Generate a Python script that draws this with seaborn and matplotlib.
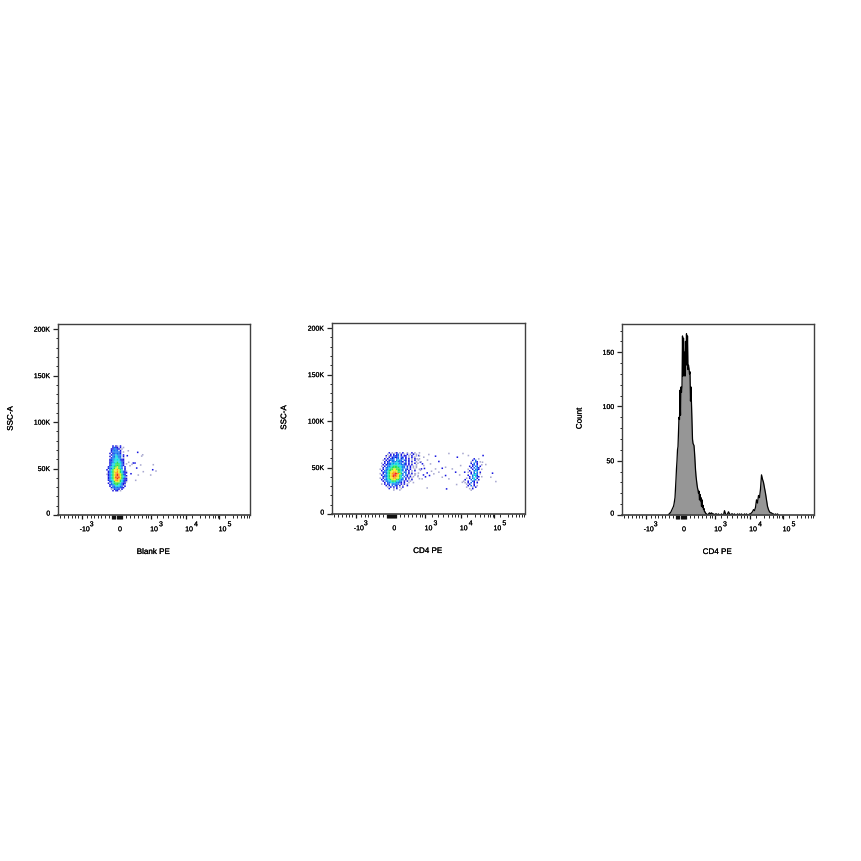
import numpy as np
import pandas as pd
import matplotlib
matplotlib.use("Agg")
import matplotlib.pyplot as plt
import matplotlib.patheffects as pe
from matplotlib.text import Text
from matplotlib.transforms import ScaledTranslation
import seaborn as sns

# x is in display channels of the biexponential axis (0-192), y in SSC-A thousands
x_major = [23.7, 62, 93, 128, 161.5]
x_labels = ["-10", "0", "10", "10", "10"]
x_powers = ["3", "", "3", "4", "5"]
x_block = [54.5, 55.5, 56.5, 57.5, 59, 60, 61, 63, 64]
x_minor = [2, 6, 10, 14, 17, 20, 29, 33, 36, 40, 43, 47, 51,
           68, 72, 76, 80, 84, 88, 90, 99, 105, 110, 115, 119, 122, 125,
           134, 142, 147, 151, 155, 157, 160, 167, 175, 179, 183, 186, 189, 191]
ssc_ticks = [0, 50, 100, 150, 200]
ssc_labels = ["0", "50K", "100K", "150K", "200K"]
count_ticks = [0, 50, 100, 150]
count_labels = ["0", "50", "100", "150"]

# density levels per 1.5 channel cell, blank = no event
blank_core = [
    "    2 21 2    ",
    "    2322 2 1  ",
    "   223322 1   ",
    "   23333 2    ",
    "   2333332 1  ",
    "  2 233332    ",
    "   2334333 2  ",
    "  2 334433 2  ",
    "   2334433 1  ",
    "  2334444322  ",
    "  2234444322  ",
    "  2334454432  ",
    "  2344555432 1",
    "  2344555432  ",
    " 2344556543 2 ",
    " 2334566543 2 ",
    "2 345667654 2 ",
    " 2345667654321",
    " 2345677654322",
    "1234567876532 ",
    " 2345678765432",
    " 2345687865431",
    " 2345678765322",
    " 2344677654322",
    "  234566654321",
    " 2 3455554322 ",
    "  23345544321 ",
    "  2 3344433 2 ",
    "   233333322  ",
    "   1 2332 2   ",
    "    2 22 1    ",
]
cd4_neg = [
    "      2 1 12 1 2  1  2 1  1 ",
    "     1 2 2 23 2 1 2 1 2 1   ",
    "    2 12 2323 2 22 1 2  1 1 ",
    "    1 2 23223 32 2 1 2 1    ",
    "   2 2 323 33 23 2 2 1 2  1 ",
    "  1 2 2333 3433 32 2 1 2    ",
    "   2 23 33343332 3 2 2  1  1",
    " 1 2 2334344433 32 2 1 2 1  ",
    "  2 23334444443332 2 2  1   ",
    " 1 2 334455544433 2 2 1 1   ",
    "  2 3344555554433 3 2 1     ",
    "1 2 334556655543 32 2  1  1 ",
    " 2 3345566665543 2 2 1 2    ",
    "  2334566776554 33 2 1      ",
    "1 2 345677887653 3 2 2 1    ",
    " 2 3345678876543 32 1  1    ",
    "  2334567877654 3 2 2 1  1  ",
    "1 2 345667766543 2 2 1      ",
    " 2 3344566655433 2 1 2      ",
    "  2 33445554433 2 2 1       ",
    "   2 3344443332 2  1  1     ",
    " 1 2 23 33333 2 2 1         ",
    "    2 2 3 32 2 1  2         ",
    "     1 2 2 2 1 2            ",
    "      2  1 2  1             ",
    "         1   1              ",
]
cd4_pos = [
    "       2  1  ",
    "      2 3    ",
    "     1  32 1 ",
    "     2 3 2   ",
    "      23 2  1",
    "    2 2 33 2 ",
    "     2 3 32  ",
    "   1  2 332 1",
    "    2  343   ",
    "   1 2 3 3 2 ",
    "     2 343 1 ",
    "   2  3442   ",
    "    2 3 432 1",
    "  1 2 34 2   ",
    " 2   3 43 2  ",
    "1  2  32 1   ",
    " 1 2 3 2 2   ",
    "  1 2  2     ",
    "   2 3 2 1   ",
    "  1   1 2    ",
    "    1 2      ",
    "     1       ",
]

blank_x = [79.7, 83.7, 84.7, 75.3, 72, 74, 77, 82.7, 95.3, 94.7, 98, 92.7, 78.7, 85.3, 80.3, 73, 77.7, 70.3, 69.3, 70.7]
blank_y = [67.4, 63.4, 64.8, 55.9, 53, 54.5, 55.9, 53.8, 54.1, 48.7, 47.3, 43, 50.5, 46.6, 43, 44.4, 37.3, 69.1, 63.8, 56.7]
cd4_x = [86.3, 91.3, 96.3, 103, 98, 91.3, 106.3, 113, 116.3, 124.7, 130.3, 135.7, 150.3, 149.7, 153, 159.7, 158, 163,
         94.7, 101.3, 106.3, 97, 89.7, 109.7, 113, 116.3, 94.7, 114, 124, 119.7, 123, 128, 127, 132, 129.7,
         85.7, 89, 83, 84.7, 88, 81.3, 103, 109.7,
         82, 86, 90, 84, 88, 92, 86, 95, 93, 99, 87, 91]
cd4_y = [62.9, 61.1, 64, 62.2, 53.9, 52.1, 56.5, 50.3, 65.1, 61.1, 65.1, 62.9, 62.9, 55.7, 53.2, 43.9, 39.6, 34.9,
         44.2, 43.2, 45, 41.4, 37.8, 39.6, 41.4, 37.8, 28, 27, 31.7, 48.5, 45, 52.1, 42, 45, 34.1,
         41.4, 48.5, 43.2, 59.3, 55.7, 64.7, 48.5, 49.2,
         61, 58, 54, 50, 47, 49, 44, 58, 40, 46, 38, 42]

# CD4 PE histogram, half channel bins from channel 46, then whole channels
peak_counts = [0, 0, 1, 1, 2, 2, 3, 4, 5, 6, 7, 8, 10, 13, 16, 24, 33, 43, 50, 60, 63, 76, 90, 88, 115, 92, 118, 113,
               118, 165, 128, 163, 132, 150, 128, 160, 140, 167, 138, 165, 134, 138, 135, 130, 132, 105, 118, 102,
               85, 70, 66, 65, 64, 58, 50, 42, 36, 32, 28, 25, 23, 20, 22, 14, 19, 13, 16, 8, 14, 7, 9, 5, 6, 3, 3, 2, 1]
tail_counts = [1, 0, 1, 2, 1, 2, 1, 1, 0, 1, 1, 0, 1, 0, 0, 1, 0, 0, 4, 1, 0, 1, 3, 1, 0, 1, 1, 0, 1, 0, 0, 1, 0, 1, 0, 1,
               0, 0, 1, 0, 1, 0, 0, 1, 1, 2, 3, 5, 4, 7, 14, 11, 18, 16, 24, 37, 33, 30, 25, 20, 14, 8, 5, 3, 2, 2, 1,
               1, 0, 1, 0, 1, 0]
peak_start = 46
tail_start = 84.5

level_colors = {1: "#a8a8d0", 2: "#1414e0", 3: "#1070f0", 4: "#10d8e0", 5: "#28e050",
                6: "#e8f020", 7: "#ff9a10", 8: "#f02818"}


def grid_to_frame(rows, left, top, step_x=1.5, step_y=1.6):
    cells = []
    for r, row in enumerate(rows):
        for c, ch in enumerate(row):
            if ch != " ":
                cells.append((left + c * step_x, top - r * step_y, int(ch)))
    return pd.DataFrame(cells, columns=["x", "y", "level"])


def style_axis(ax, yticks, ylabels, ylim, ylabel, xlabel, ylab_x, y_minor):
    ax.set_xlim(0, 192)
    ax.set_ylim(*ylim)
    ax.set_xticks(x_major + x_block)
    ax.set_xticks(x_minor, minor=True)
    ax.set_xticklabels([])
    ax.set_yticks(yticks)
    ax.set_yticks(y_minor, minor=True)
    ax.set_yticklabels(ylabels, fontsize=5, color="black")
    ax.tick_params(axis="x", which="major", length=3.2, width=0.9, color="#111111")
    ax.tick_params(axis="x", which="minor", length=1.8, width=0.7, color="#222222")
    ax.tick_params(axis="y", which="major", length=3.4, width=0.9, pad=2.2, color="#222222")
    ax.tick_params(axis="y", which="minor", length=1.3, width=0.7, color="#222222")
    # the zero label sits a little above its tick in the original
    lab = ax.get_yticklabels()[0]
    lab.set_transform(lab.get_transform() + ScaledTranslation(0, 2 / 100, ax.figure.dpi_scale_trans))
    for spine in ax.spines.values():
        spine.set_visible(True)
        spine.set_linewidth(1.0)
        spine.set_color("#404040")
    ax.spines["bottom"].set_linewidth(1.2)
    ax.set_xlabel(xlabel, fontsize=5.8, color="black")
    ax.set_ylabel(ylabel, fontsize=5.8, color="black")
    ax.xaxis.set_label_coords(0.495, -0.178)
    ax.yaxis.set_label_coords(ylab_x, 0.505)
    for tick, text, power in zip(x_major, x_labels, x_powers):
        off = 0 if text == "0" else 2.2
        ax.annotate(text, (tick, 0), xycoords=("data", "axes fraction"), xytext=(off, -10.6),
                    textcoords="offset points", ha="center", va="center", fontsize=5, color="black")
        if power:
            ax.annotate(power, (tick, 0), xycoords=("data", "axes fraction"), xytext=(off + 5, -7),
                        textcoords="offset points", ha="center", va="center", fontsize=5, color="black")


def density_panel(ax, grids, dots_x, dots_y, xlabel, ylab_x):
    frames = [grid_to_frame(*g) for g in grids]
    dots = pd.DataFrame({"x": dots_x, "y": dots_y, "level": [2 if i % 3 == 0 else 1 for i in range(len(dots_x))]})
    df = pd.concat([dots] + frames, ignore_index=True)
    sns.scatterplot(data=df, x="x", y="y", hue="level", palette=level_colors, marker="s",
                    s=1.25, linewidth=0, legend=False, ax=ax)
    ax.collections[-1].set_snap(False)
    style_axis(ax, ssc_ticks, ssc_labels, (0, 205.5), "SSC-A", xlabel, ylab_x, list(range(10, 205, 10)))


sns.set_style("ticks")
plt.rcParams["font.family"] = ["Liberation Sans", "DejaVu Sans"]

fig = plt.figure(figsize=(8.62, 8.62), dpi=100)


def panel_axes(left, right, top, bottom):
    return fig.add_axes([left / 862, 1 - bottom / 862, (right - left) / 862, (bottom - top) / 862])


ax1 = panel_axes(58, 250, 325, 516)
density_panel(ax1, [(blank_core, 49, 74.2)], blank_x, blank_y, "Blank PE", -0.226)

ax2 = panel_axes(332, 525, 324, 515)
density_panel(ax2, [(cd4_neg, 48, 65.8), (cd4_pos, 131, 59.3)], cd4_x, cd4_y, "CD4 PE", -0.227)

ax3 = panel_axes(622, 814, 325, 516)
hist = pd.DataFrame({
    "channel": [peak_start + i * 0.5 for i in range(len(peak_counts))]
    + [tail_start + i for i in range(len(tail_counts))],
    "count": peak_counts + tail_counts,
})
ax3.fill_between(hist["channel"], hist["count"], color="#969696", linewidth=0)
sns.lineplot(data=hist, x="channel", y="count", color="black", linewidth=0.9, estimator=None, sort=False, ax=ax3)
style_axis(ax3, count_ticks, count_labels, (0, 176), "Count", "CD4 PE", -0.20,
           [10, 20, 30, 40, 60, 70, 80, 90, 110, 120, 130, 140, 160, 170])

# the original labels are a bit heavier than plain Liberation at this size
for t in fig.findobj(Text):
    t.set_path_effects([pe.withStroke(linewidth=0.12, foreground="black")])

fig.savefig("out.png", dpi=100)
